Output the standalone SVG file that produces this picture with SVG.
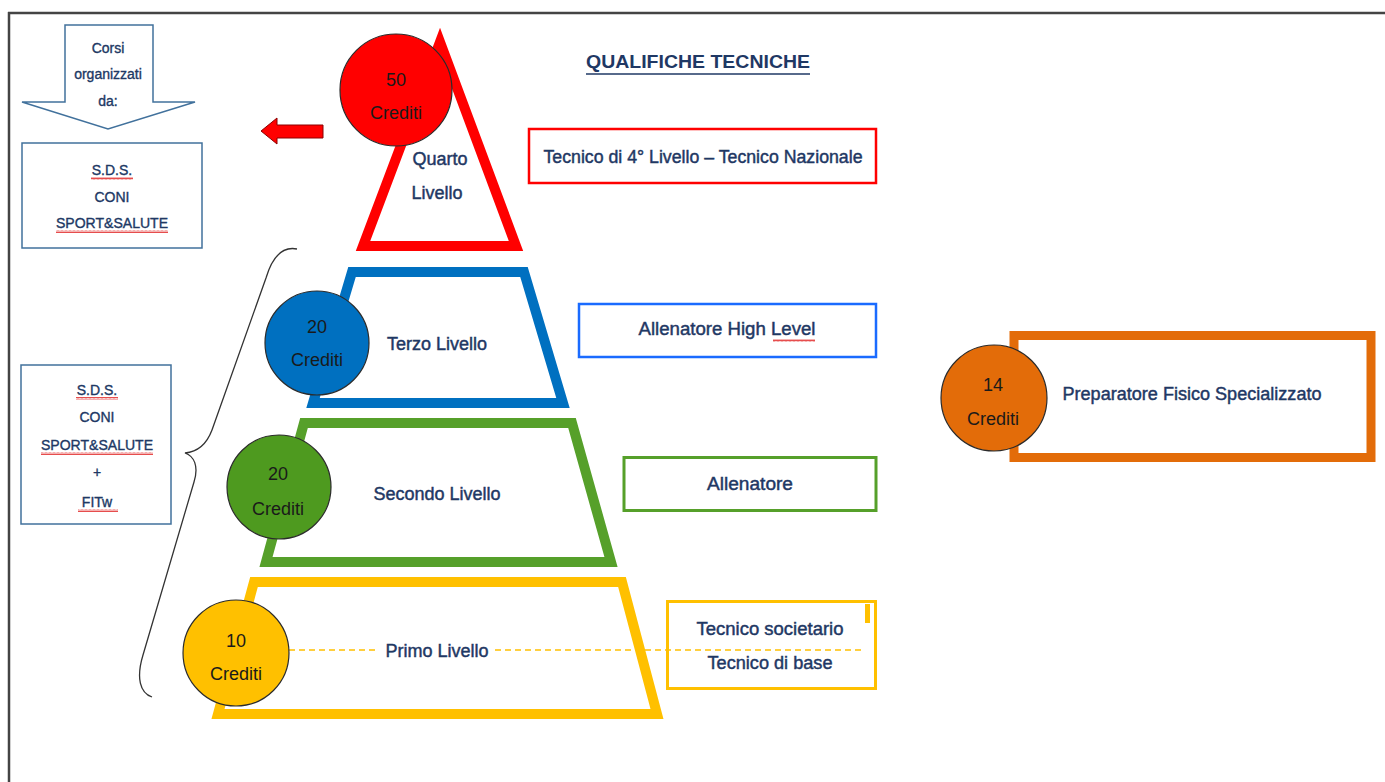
<svg xmlns="http://www.w3.org/2000/svg" width="1385" height="782" viewBox="0 0 1385 782">
<style>
.lbl{font-family:"Liberation Sans",Arial,sans-serif;font-size:18px;fill:#1F3864;stroke:#1F3864;stroke-width:0.45;text-anchor:middle}
.sm{font-family:"Liberation Sans",Arial,sans-serif;font-size:14px;fill:#203864;stroke:#203864;stroke-width:0.35;text-anchor:middle}
.cr{font-family:"Liberation Sans",Arial,sans-serif;font-size:18px;fill:#1a1a1a;text-anchor:middle}
.circ{stroke:#2b2b2b;stroke-width:1.2}
.trap{fill:#fff;stroke-width:10;stroke-linejoin:miter}
.blu{fill:#fff;stroke:#41719C;stroke-width:1.5}
</style>
<defs>
<pattern id="wv" width="4" height="3" patternUnits="userSpaceOnUse"><path d="M0 2.5 L1 0.5 L2 2.5 L3 0.5 L4 2.5" fill="none" stroke="#E02020" stroke-width="0.8"/></pattern>
</defs>
<rect width="1385" height="782" fill="#fff"/>
<g id="frame">
<line x1="8" y1="13" x2="1385" y2="13" stroke="#444" stroke-width="2.5"/>
<line x1="9" y1="12" x2="9" y2="782" stroke="#444" stroke-width="2.5"/>
</g>

<g id="title">
<text x="698" y="68" font-family="'Liberation Sans',Arial,sans-serif" font-size="19" font-weight="bold" fill="#1F3864" text-anchor="middle" textLength="224" lengthAdjust="spacingAndGlyphs">QUALIFICHE TECNICHE</text>
<line x1="586" y1="74" x2="810" y2="74" stroke="#1F3864" stroke-width="1.5"/>
</g>

<g id="corsi-arrow">
<path d="M65 25 L153 25 L153 102 L195 102 L108 129 L22 102 L65 102 Z" class="blu"/>
<text x="108" y="53" class="sm">Corsi</text>
<text x="108" y="79" class="sm">organizzati</text>
<text x="108" y="106" class="sm">da:</text>
</g>

<g id="box-sds1">
<rect x="22" y="143" width="180" height="105" class="blu"/>
<text x="112" y="175" class="sm">S.D.S.</text>
<text x="112" y="202" class="sm">CONI</text>
<text x="112" y="228" class="sm" textLength="112" lengthAdjust="spacingAndGlyphs">SPORT&amp;SALUTE</text>
<rect x="91" y="177" width="42" height="3" fill="url(#wv)"/>
<rect x="56" y="230" width="112" height="3" fill="url(#wv)"/>
</g>

<g id="box-sds2">
<rect x="21" y="365" width="150" height="159" class="blu"/>
<text x="97" y="395" class="sm">S.D.S.</text>
<text x="97" y="422" class="sm">CONI</text>
<text x="97" y="450" class="sm" textLength="112" lengthAdjust="spacingAndGlyphs">SPORT&amp;SALUTE</text>
<text x="97" y="477" class="sm">+</text>
<text x="97" y="507" class="sm">FITw</text>
<rect x="76" y="397" width="42" height="3" fill="url(#wv)"/>
<rect x="41" y="452" width="112" height="3" fill="url(#wv)"/>
<rect x="78" y="509" width="40" height="3" fill="url(#wv)"/>
</g>

<g id="connectors">
<path d="M297 249 C282 246 272 258 266 278 L212 430 C206 446 196 452 185 453 C194 456 199 466 194 482 L143 655 C136 678 140 693 152 697" fill="none" stroke="#333" stroke-width="1.3"/>
<path d="M261 131 L277 118 L277 125 L323 125 L323 138 L277 138 L277 144 Z" fill="#FF0000" stroke="#8B0000" stroke-width="1"/>
</g>

<g id="level4">
<polygon points="440,42 363,246 516,246" class="trap" stroke="#FF0000"/>
<circle cx="396" cy="90" r="56" fill="#FF0000" class="circ"/>
<text x="396" y="86" class="cr">50</text>
<text x="396" y="119" class="cr">Crediti</text>
<text x="440" y="165" class="lbl">Quarto</text>
<text x="437" y="199" class="lbl">Livello</text>
</g>

<g id="level3">
<polygon points="352,272 524,272 563,403 313,403" class="trap" stroke="#0070C0"/>
<circle cx="317" cy="343" r="52" fill="#0070C0" class="circ"/>
<text x="317" y="333" class="cr">20</text>
<text x="317" y="366" class="cr">Crediti</text>
<text x="437" y="350" class="lbl">Terzo Livello</text>
</g>

<g id="level2">
<polygon points="304,423 572,423 611,562 266,562" class="trap" stroke="#56A02A"/>
<circle cx="279" cy="487" r="52" fill="#4E9A1F" class="circ"/>
<text x="278" y="480" class="cr">20</text>
<text x="278" y="515" class="cr">Crediti</text>
<text x="437" y="500" class="lbl">Secondo Livello</text>
</g>

<g id="level1">
<polygon points="254,582 622,582 657,714 218,714" class="trap" stroke="#FFC000"/>
<line x1="289" y1="650" x2="378" y2="650" stroke="#FFC000" stroke-width="1.5" stroke-dasharray="6,4"/>
<line x1="495" y1="650" x2="862" y2="650" stroke="#FFC000" stroke-width="1.5" stroke-dasharray="6,4"/>
<circle cx="236" cy="653" r="53" fill="#FFC000" class="circ"/>
<text x="236" y="647" class="cr">10</text>
<text x="236" y="680" class="cr">Crediti</text>
<text x="437" y="657" class="lbl">Primo Livello</text>
</g>

<g id="label4">
<rect x="529" y="129" width="347" height="54" fill="none" stroke="#FF0000" stroke-width="2.5"/>
<text x="703" y="163" class="lbl" textLength="319" lengthAdjust="spacingAndGlyphs">Tecnico di 4° Livello – Tecnico Nazionale</text>
</g>

<g id="label3">
<rect x="579" y="304" width="297" height="53" fill="none" stroke="#1A6BFF" stroke-width="2.5"/>
<text x="727" y="335" class="lbl" textLength="177" lengthAdjust="spacingAndGlyphs">Allenatore High Level</text>
<rect x="773" y="339" width="42" height="3" fill="url(#wv)"/>
</g>

<g id="label2">
<rect x="624" y="457.5" width="252" height="53" fill="none" stroke="#56A02A" stroke-width="3"/>
<text x="750" y="490" class="lbl" textLength="86" lengthAdjust="spacingAndGlyphs">Allenatore</text>
</g>

<g id="label1">
<rect x="667.5" y="601.5" width="208" height="87" fill="none" stroke="#FFC000" stroke-width="3"/>
<rect x="865" y="604" width="5" height="19" fill="#FFC000"/>
<text x="770" y="635" class="lbl" textLength="147" lengthAdjust="spacingAndGlyphs">Tecnico societario</text>
<text x="770" y="669" class="lbl" textLength="125" lengthAdjust="spacingAndGlyphs">Tecnico di base</text>
</g>

<g id="preparatore">
<rect x="1014" y="335.5" width="357" height="122" fill="#fff" stroke="#E36C09" stroke-width="9"/>
<circle cx="994" cy="398" r="53" fill="#E36C09" class="circ"/>
<text x="993" y="391" class="cr">14</text>
<text x="993" y="425" class="cr">Crediti</text>
<text x="1192" y="400" class="lbl" textLength="259" lengthAdjust="spacingAndGlyphs">Preparatore Fisico Specializzato</text>
</g>
</svg>
